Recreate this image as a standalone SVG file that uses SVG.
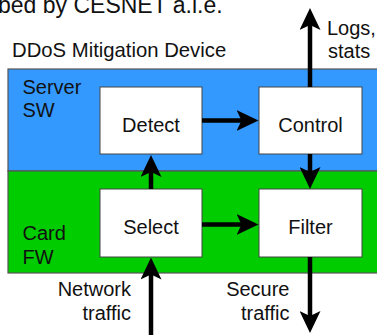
<svg xmlns="http://www.w3.org/2000/svg" width="377" height="335" viewBox="0 0 377 335">
<style>
text{font-family:"Liberation Sans",Arial,Helvetica,sans-serif;font-size:20px;fill:#111}
.mid{text-anchor:middle}
.end{text-anchor:end}
.box{fill:#fff;stroke:#444;stroke-width:1}
.region{stroke:#555;stroke-width:1.2}
.conn{stroke:#000;stroke-width:4.5;fill:none;marker-end:url(#arr)}
</style>
<defs>
<marker id="arr" markerUnits="userSpaceOnUse" markerWidth="22" markerHeight="21" viewBox="0 0 22 21" refX="8" refY="10.5" orient="auto">
<path d="M0,0 L22,10.5 L0,21 L5,10.5 Z" fill="#000"/>
</marker>
</defs>
<rect width="377" height="335" fill="#fff"/>
<text x="-2" y="13" style="font-size:23px">bed by CESNET a.l.e.</text>
<text x="12" y="57" style="font-size:20.3px">DDoS Mitigation Device</text>
<g id="server-sw">
<rect class="region" x="8" y="69" width="380" height="102" fill="#3399ff"/>
<text x="22.5" y="94">Server</text>
<text x="22.5" y="117">SW</text>
</g>
<g id="card-fw">
<rect class="region" x="8" y="171" width="380" height="102" fill="#00cc00"/>
<text x="22.5" y="239.5">Card</text>
<text x="22.5" y="264">FW</text>
</g>
<g id="detect">
<rect class="box" x="100" y="87" width="102" height="67"/>
<text class="mid" x="151" y="131.5">Detect</text>
</g>
<g id="control">
<rect class="box" x="259" y="87" width="103" height="67"/>
<text class="mid" x="310.5" y="131.5">Control</text>
</g>
<g id="select">
<rect class="box" x="100" y="189" width="102" height="68"/>
<text class="mid" x="151" y="233.5">Select</text>
</g>
<g id="filter">
<rect class="box" x="259" y="189" width="103" height="68"/>
<text class="mid" x="310.5" y="233.5">Filter</text>
</g>
<g id="labels">
<text x="327" y="34.5">Logs,</text>
<text x="328" y="58">stats</text>
<text class="end" x="131" y="296">Network</text>
<text class="end" x="131" y="320">traffic</text>
<text class="end" x="289.5" y="296">Secure</text>
<text class="end" x="289.5" y="320">traffic</text>
</g>
<g id="connectors">
<line class="conn" x1="202" y1="120.5" x2="244.5" y2="120.5"/>
<line class="conn" x1="202" y1="224.5" x2="244.5" y2="224.5"/>
<line class="conn" x1="151" y1="189" x2="151" y2="169"/>
<line class="conn" x1="310" y1="154" x2="310" y2="175"/>
<line class="conn" x1="310" y1="87" x2="310" y2="22"/>
<line class="conn" x1="151" y1="340" x2="151" y2="271.5"/>
<line class="conn" x1="310" y1="257" x2="310" y2="319"/>
</g>
</svg>
